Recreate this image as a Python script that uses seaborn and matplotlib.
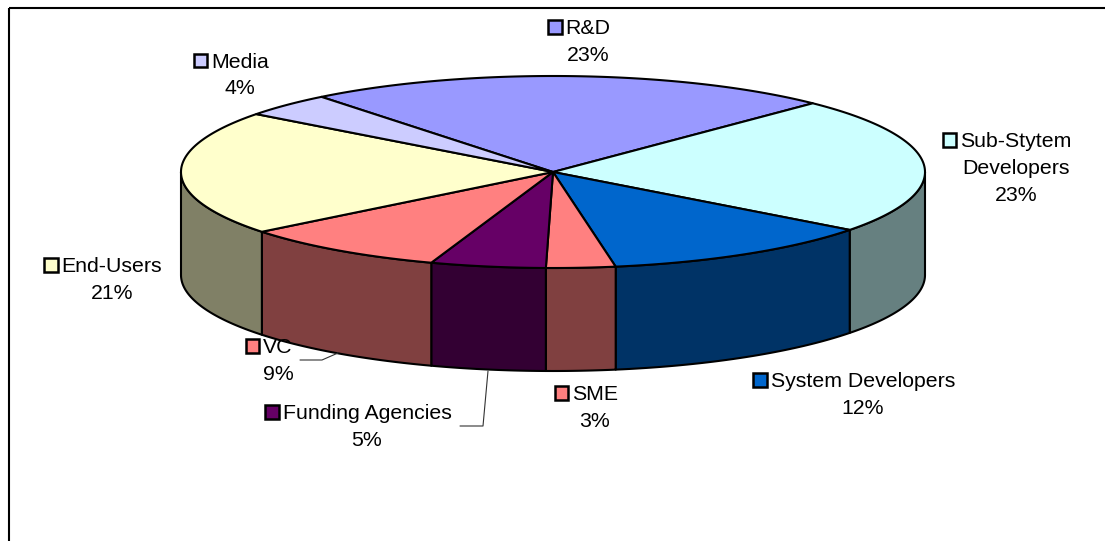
import numpy as np
import matplotlib
matplotlib.use("Agg")
import matplotlib.pyplot as plt
from matplotlib.patches import Polygon, Rectangle
import seaborn as sns

# %% data
names = ["R&D", "Sub-Stytem\nDevelopers", "System Developers", "SME",
         "Funding Agencies", "VC", "End-Users", "Media"]
shares = [23, 23, 12, 3, 5, 9, 21, 4]
top_colors = ["#9999FF", "#CCFFFF", "#0066CC", "#FF8080",
              "#660066", "#FF8080", "#FFFFCC", "#CCCCFF"]

# label layout: centre x of the text column, baseline of the first line
label_x = [588, 1016, 863, 595, 367, 278, 112, 240]
label_base = [34, 147, 387, 400, 419, 353, 272, 67.5]

# %% style
sns.set_theme(style="white")
plt.rcParams["font.family"] = ["Liberation Sans", "DejaVu Sans"]
palette = sns.color_palette(top_colors)
side_palette = [tuple(c * 0.5 for c in col) for col in palette]

W, H = 1105, 541
fig = plt.figure(figsize=(W / 100, H / 100), dpi=100)
ax = fig.add_axes([0, 0, 1, 1])
ax.set_xlim(0, W)
ax.set_ylim(H, 0)
ax.axis("off")

# pie geometry (pixels)
cx, cy = 553, 172
rx, ry = 372, 96
depth = 103
start = 128.5


def rim(t):
    r = np.radians(t)
    return np.column_stack([cx + rx * np.cos(r), cy - ry * np.sin(r)])


bounds = start - 3.6 * np.concatenate([[0], np.cumsum(shares)])

# side walls (front half only)
for i in range(len(shares)):
    hi, lo = bounds[i], bounds[i + 1]
    a, b = max(lo, -180), min(hi, 0)
    if a < b:
        top = rim(np.linspace(b, a, 80))
        bot = top[::-1] + [0, depth]
        ax.add_patch(Polygon(np.vstack([top, bot]), closed=True,
                             facecolor=side_palette[i], edgecolor="black",
                             lw=1.5, joinstyle="round"))

# top faces
for i in range(len(shares)):
    hi, lo = bounds[i], bounds[i + 1]
    pts = np.vstack([[cx, cy], rim(np.linspace(hi, lo, 120))])
    ax.add_patch(Polygon(pts, closed=True, facecolor=palette[i],
                         edgecolor="black", lw=1.5, joinstyle="round"))

# leader lines
ax.plot([300, 322, 338], [360, 360, 353], color="#333333", lw=0.8)
ax.plot([460, 483, 488], [426, 426, 371], color="#333333", lw=0.8)

# labels
fs = 15.3
step = 27
renderer = fig.canvas.get_renderer()
inv = ax.transData.inverted()
for i, name in enumerate(names):
    lines = name.split("\n") + [f"{shares[i]}%"]
    first = None
    for k, line in enumerate(lines):
        t = ax.text(label_x[i], label_base[i] + k * step, line, fontsize=fs,
                    ha="center", va="baseline", color="black")
        if k == 0:
            first = t
    bb = first.get_window_extent(renderer)
    left = inv.transform((bb.x0, bb.y0))[0]
    ax.add_patch(Rectangle((left - 17.5, label_base[i] - 14), 13.5, 13.5,
                           facecolor=palette[i], edgecolor="black", lw=1.8))

# chart frame (left and top borders visible)
ax.plot([9, 9], [H + 5, 8], color="black", lw=1.5, solid_capstyle="butt")
ax.plot([9, W + 5], [8, 8], color="black", lw=1.5, solid_capstyle="butt")

fig.savefig("out.png", dpi=100)
